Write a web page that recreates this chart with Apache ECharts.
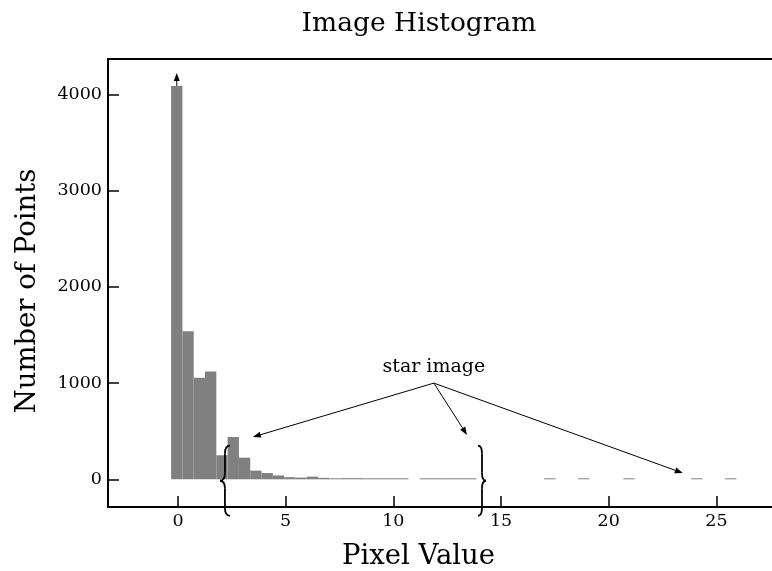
<!DOCTYPE html>
<html>
<head>
<meta charset="utf-8">
<script src="https://cdn.jsdelivr.net/npm/echarts@6/dist/echarts.min.js"></script>
<style>
  html, body { margin: 0; padding: 0; background: #fff; }
  #chart { width: 772px; height: 571px; }
</style>
</head>
<body>
<div id="chart"></div>
<script>
// Histogram bins: left edge of first bin and width of each bin
const binStart = -0.32;
const binWidth = 0.525;

// Number of points falling in each bin
const counts = [
  4090, 1540, 1055, 1120, 250, 440, 225, 90, 65, 40,
  22, 18, 28, 15, 8, 12, 12, 10, 10, 6,
  5, 0, 4, 4, 3, 3, 3, 0, 0, 0,
  0, 0, 0, 1, 0, 0, 1, 0, 0, 0,
  1, 0, 0, 0, 0, 0, 1, 0, 0, 1
];

// Tick labels
const xTicks = [0, 5, 10, 15, 20, 25];
const yTicks = [0, 1000, 2000, 3000, 4000];

// Text
const titleText = 'Image Histogram';
const xName = 'Pixel Value';
const yName = 'Number of Points';
const noteText = 'star image';

const FONT = 'DejaVu Serif';

const histData = counts.map((c, i) => [
  binStart + i * binWidth,
  binStart + (i + 1) * binWidth,
  c
]);

const chart = echarts.init(document.getElementById('chart'), null, { renderer: 'canvas' });

chart.setOption({
  animation: false,
  backgroundColor: '#fff',
  title: {
    text: titleText,
    left: 414,
    textAlign: 'center',
    top: 6,
    textStyle: { fontFamily: FONT, fontSize: 26.5, fontWeight: 'normal', color: '#000' }
  },
  grid: {
    left: 108, right: -9, top: 59, bottom: 64,
    outerBoundsMode: 'none',
    containLabel: false,
    show: true, borderColor: '#000', borderWidth: 2, backgroundColor: 'transparent'
  },
  xAxis: {
    type: 'value',
    min: -3.25, max: 28,
    name: xName,
    nameLocation: 'middle',
    nameGap: 36,
    nameTextStyle: { fontFamily: FONT, fontSize: 27.5, color: '#000', padding: [0, 52, 0, 0] },
    axisLine: { show: true, onZero: false, lineStyle: { color: '#000', width: 2 } },
    axisTick: { show: true, inside: true, length: 11, customValues: xTicks, lineStyle: { color: '#000', width: 1.5 } },
    axisLabel: { customValues: xTicks, margin: 5, fontFamily: FONT, fontSize: 17.5, color: '#000', formatter: v => String(v) },
    splitLine: { show: false }
  },
  yAxis: {
    type: 'value',
    min: -288, max: 4370,
    name: yName,
    nameLocation: 'middle',
    nameGap: 66,
    nameTextStyle: { fontFamily: FONT, fontSize: 27.5, color: '#000', padding: [0, 16, 0, 0] },
    axisLine: { show: true, onZero: false, lineStyle: { color: '#000', width: 2 } },
    axisTick: { show: true, inside: true, length: 11, customValues: yTicks, lineStyle: { color: '#000', width: 1.5 } },
    axisLabel: { customValues: yTicks, margin: 6, fontFamily: FONT, fontSize: 17.5, color: '#000', formatter: v => String(v) },
    splitLine: { show: false }
  },
  series: [{
    type: 'custom',
    data: histData,
    encode: { x: [0, 1], y: 2 },
    renderItem: function (params, api) {
      const c = api.value(2);
      if (!c) return null;
      const top = api.coord([api.value(0), c]);
      const base = api.coord([api.value(1), 0]);
      const h = Math.max(base[1] - top[1], 1);
      return {
        type: 'rect',
        shape: { x: top[0], y: base[1] - h, width: base[0] - top[0], height: h },
        style: { fill: '#808080' }
      };
    }
  }]
});

// Annotations placed in data coordinates
const px = p => chart.convertToPixel({ gridIndex: 0 }, p);

function arrow(from, to) {
  const a = px(from), b = px(to);
  const dx = b[0] - a[0], dy = b[1] - a[1];
  const len = Math.hypot(dx, dy);
  const ux = dx / len, uy = dy / len;
  const hl = 8, hw = 3;
  const bx = b[0] - ux * hl, by = b[1] - uy * hl;
  return [
    { type: 'line', shape: { x1: a[0], y1: a[1], x2: bx, y2: by }, style: { stroke: '#000', lineWidth: 1 }, z: 10 },
    { type: 'polygon', shape: { points: [[b[0], b[1]], [bx - uy * hw, by + ux * hw], [bx + uy * hw, by - ux * hw]] }, style: { fill: '#000' }, z: 10 }
  ];
}

// Curly brace built from quadratic curves and straight stems
function brace(tipX, cuspX, midY, half) {
  const t = px([tipX, midY + half]);
  const m = px([cuspX, midY]);
  const b = px([tipX, midY - half]);
  const tip = t[0], cusp = m[0], stem = (tip + cusp) / 2;
  const top = t[1], mid = m[1], bot = b[1];
  const q = 8;
  const st = { stroke: '#000', lineWidth: 1.8, fill: null };
  const quad = (x1, y1, cx, cy, x2, y2) =>
    ({ type: 'bezierCurve', shape: { x1, y1, cpx1: cx, cpy1: cy, x2, y2 }, style: st, z: 10 });
  const seg = (x1, y1, x2, y2) =>
    ({ type: 'line', shape: { x1, y1, x2, y2 }, style: st, z: 10 });
  return [
    quad(tip, top, stem, top, stem, top + q),
    seg(stem, top + q, stem, mid - q),
    quad(stem, mid - q, stem, mid, cusp, mid),
    quad(cusp, mid, stem, mid, stem, mid + q),
    seg(stem, mid + q, stem, bot - q),
    quad(stem, bot - q, stem, bot, tip, bot)
  ];
}

const origin = [11.88, 1000];
const labelPos = px([11.88, 1165]);
const bin0Center = binStart + binWidth / 2;

const graphics = [].concat(
  arrow([bin0Center, counts[0]], [bin0Center, 4225]),
  arrow(origin, [3.48, 440]),
  arrow(origin, [13.42, 461]),
  arrow(origin, [23.44, 65]),
  brace(2.41, 1.95, -15, 365),
  brace(13.93, 14.3, -15, 365),
  [{
    type: 'text',
    x: labelPos[0], y: labelPos[1],
    style: { text: noteText, fontFamily: FONT, fontSize: 19, fill: '#000', align: 'center', verticalAlign: 'middle' },
    z: 10
  }]
);

chart.setOption({ graphic: graphics });
</script>
</body>
</html>
